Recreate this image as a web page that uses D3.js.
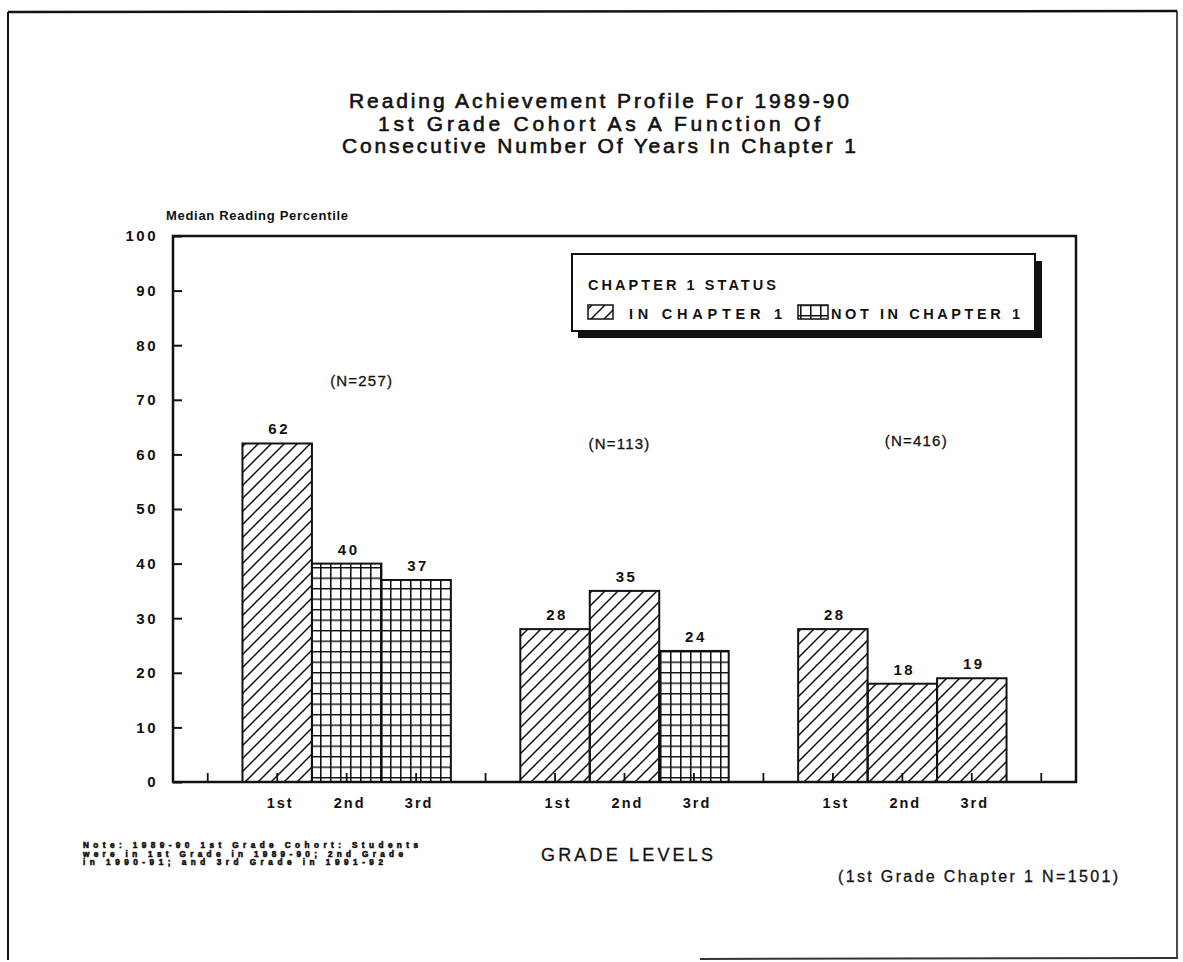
<!DOCTYPE html>
<html>
<head>
<meta charset="utf-8">
<script src="https://cdn.jsdelivr.net/npm/d3@7"></script>
<style>
  html, body { margin: 0; padding: 0; background: #fff; }
  svg { display: block; }
  text { font-family: "Liberation Sans", Arial, Helvetica, sans-serif; fill: #111; }
</style>
</head>
<body>
<svg id="chart" width="1183" height="962"></svg>
<script>
// ---- Data ----
const titleLines = [
  "Reading Achievement Profile For 1989-90",
  "1st Grade Cohort As A Function Of",
  "Consecutive Number Of Years In Chapter 1"
];
const gradeLabels = ["1st", "2nd", "3rd"];
const cohortLabels = ["(N=257)", "(N=113)", "(N=416)"];
// median reading percentile for 1st, 2nd, 3rd grade in each cohort group
const group1Values = [62, 40, 37];
const group2Values = [28, 35, 24];
const group3Values = [28, 18, 19];
// Chapter 1 status for each bar: true = in Chapter 1, false = not in Chapter 1
const group1Status = [true, false, false];
const group2Status = [true, true, false];
const group3Status = [true, true, true];
const yTicks = [0, 10, 20, 30, 40, 50, 60, 70, 80, 90, 100];
const legendTitle = "CHAPTER 1 STATUS";
const legendLabels = ["IN CHAPTER 1", "NOT IN CHAPTER 1"];
const noteLines = [
  "Note: 1989-90 1st Grade Cohort: Students",
  "were in 1st Grade in 1989-90; 2nd Grade",
  "in 1990-91; and 3rd Grade in 1991-92"
];

const groupValues = [group1Values, group2Values, group3Values];
const groupStatus = [group1Status, group2Status, group3Status];

// ---- Layout ----
const svg = d3.select("#chart");
const plot = { left: 173, right: 1076, top: 236, bottom: 782 };

// Slots along the x axis: an empty slot before each group and after the last one.
const slots = [];
const bars = [];
groupValues.forEach((vals, g) => {
  slots.push("gap" + g);
  vals.forEach((v, i) => {
    const key = "g" + g + "b" + i;
    slots.push(key);
    bars.push({ key, group: g, grade: gradeLabels[i], value: v, inCh1: groupStatus[g][i] });
  });
});
slots.push("gap" + groupValues.length);

const x = d3.scaleBand().domain(slots).range([plot.left, plot.right]).padding(0);
const y = d3.scaleLinear().domain([0, 100]).range([plot.bottom, plot.top]);
const cx = k => x(k) + x.bandwidth() / 2;

// ---- Patterns ----
const defs = svg.append("defs");
const hatch = defs.append("pattern")
  .attr("id", "hatch").attr("patternUnits", "userSpaceOnUse")
  .attr("width", 13).attr("height", 13);
hatch.append("path")
  .attr("d", "M-2,15 L15,-2 M-2,2 L2,-2 M11,15 L15,11")
  .attr("stroke", "#111").attr("stroke-width", 1.5);

const grid = defs.append("pattern")
  .attr("id", "grid").attr("patternUnits", "userSpaceOnUse")
  .attr("width", 10).attr("height", 10.5);
grid.append("path")
  .attr("d", "M0,0.7 L10,0.7 M0.7,0 L0.7,10.5")
  .attr("stroke", "#111").attr("stroke-width", 1.7);

// ---- Page frame ----
const frame = svg.append("g").attr("fill", "none").attr("stroke", "#111");
frame.append("path").attr("d", "M8,12 L1177,11").attr("stroke-width", 2.5);
frame.append("path").attr("d", "M8,12 L8,960").attr("stroke-width", 2);
frame.append("path").attr("d", "M1177,11 L1177,958").attr("stroke-width", 1.5);
frame.append("path").attr("d", "M700,959 L1178,958").attr("stroke-width", 2).attr("stroke", "#333");

// ---- Title ----
const titleWidths = [500, 442, 514];
svg.append("g").selectAll("text").data(titleLines).join("text")
  .attr("x", 599).attr("y", (d, i) => 108 + i * 22.5)
  .attr("text-anchor", "middle")
  .attr("font-size", 21)
  .attr("stroke", "#111").attr("stroke-width", 0.6)
  .attr("textLength", (d, i) => titleWidths[i]).attr("lengthAdjust", "spacing")
  .text(d => d);

// ---- Bars ----
svg.append("g").selectAll("rect").data(bars).join("rect")
  .attr("x", d => x(d.key))
  .attr("y", d => y(d.value))
  .attr("width", x.bandwidth())
  .attr("height", d => y(0) - y(d.value))
  .attr("fill", d => d.inCh1 ? "url(#hatch)" : "url(#grid)")
  .attr("stroke", "#111").attr("stroke-width", 2);

// value labels
svg.append("g").selectAll("text").data(bars).join("text")
  .attr("x", d => cx(d.key) + 2)
  .attr("y", d => y(d.value) - 9)
  .attr("text-anchor", "middle")
  .attr("font-size", 15).attr("font-weight", "bold")
  .attr("letter-spacing", 2.5)
  .text(d => d.value);

// ---- Plot frame and axes ----
svg.append("rect")
  .attr("x", plot.left).attr("y", plot.top)
  .attr("width", plot.right - plot.left).attr("height", plot.bottom - plot.top)
  .attr("fill", "none").attr("stroke", "#111").attr("stroke-width", 2.5);

const yAxis = d3.axisLeft(y).tickValues(yTicks).tickSize(-9).tickPadding(15).tickFormat(d3.format("d"));
const yg = svg.append("g").attr("transform", `translate(${plot.left},0)`).call(yAxis);
yg.select(".domain").remove();
yg.selectAll(".tick line").attr("stroke", "#111").attr("stroke-width", 2);
yg.selectAll(".tick text")
  .attr("font-family", "Liberation Sans, Arial, sans-serif")
  .attr("font-size", 15).attr("font-weight", "bold")
  .attr("letter-spacing", 2.5).attr("fill", "#111");

const xAxis = d3.axisBottom(x).tickSize(-9).tickFormat("");
const xg = svg.append("g").attr("transform", `translate(0,${plot.bottom})`).call(xAxis);
xg.select(".domain").remove();
xg.selectAll(".tick line").attr("stroke", "#111").attr("stroke-width", 1.8);

// grade labels under each bar
svg.append("g").selectAll("text").data(bars).join("text")
  .attr("x", d => cx(d.key) + 3)
  .attr("y", 808)
  .attr("text-anchor", "middle")
  .attr("font-size", 14.5).attr("font-weight", "bold")
  .attr("letter-spacing", 2)
  .text(d => d.grade);

// y axis title
svg.append("text")
  .attr("x", 166).attr("y", 220)
  .attr("font-size", 13).attr("font-weight", "bold")
  .attr("textLength", 182).attr("lengthAdjust", "spacing")
  .text("Median Reading Percentile");

// cohort sizes
const cohortPos = [{ dx: 15, v: 72.5 }, { dx: -5, v: 61 }, { dx: 14, v: 61.5 }];
svg.append("g").selectAll("text").data(cohortLabels).join("text")
  .attr("x", (d, g) => cx("g" + g + "b1") + cohortPos[g].dx)
  .attr("y", (d, g) => y(cohortPos[g].v))
  .attr("text-anchor", "middle")
  .attr("font-size", 15)
  .attr("stroke", "#111").attr("stroke-width", 0.3)
  .attr("letter-spacing", 1.2)
  .text(d => d);

// x axis title
svg.append("text")
  .attr("x", 627).attr("y", 861)
  .attr("text-anchor", "middle")
  .attr("font-size", 18)
  .attr("stroke", "#111").attr("stroke-width", 0.3)
  .attr("textLength", 172).attr("lengthAdjust", "spacing")
  .text("GRADE LEVELS");

// note
svg.append("g").selectAll("text").data(noteLines).join("text")
  .attr("x", 83).attr("y", (d, i) => 848 + i * 8.6)
  .attr("font-size", 8.2).attr("font-weight", "bold")
  .attr("stroke", "#111").attr("stroke-width", 0.6)
  .attr("textLength", (d, i) => [335, 320, 300][i]).attr("lengthAdjust", "spacing")
  .text(d => d);

// total
svg.append("text")
  .attr("x", 838).attr("y", 882)
  .attr("font-size", 16)
  .attr("stroke", "#111").attr("stroke-width", 0.3)
  .attr("textLength", 280).attr("lengthAdjust", "spacing")
  .text("(1st Grade Chapter 1 N=1501)");

// ---- Legend ----
const lg = svg.append("g");
lg.append("rect").attr("x", 578).attr("y", 261).attr("width", 464).attr("height", 77).attr("fill", "#111");
lg.append("rect").attr("x", 572).attr("y", 254).attr("width", 463).attr("height", 77)
  .attr("fill", "#fff").attr("stroke", "#111").attr("stroke-width", 2);
lg.append("text").attr("x", 588).attr("y", 290)
  .attr("font-size", 14.5).attr("font-weight", "bold")
  .attr("textLength", 188).attr("lengthAdjust", "spacing")
  .text(legendTitle);
const legendItems = [
  { label: legendLabels[0], fill: "url(#hatch)", sx: 588, sw: 25, tx: 629, w: 153 },
  { label: legendLabels[1], fill: "url(#grid)", sx: 798, sw: 30, tx: 831, w: 189 }
];
legendItems.forEach(it => {
  lg.append("rect").attr("x", it.sx).attr("y", 305).attr("width", it.sw).attr("height", 14)
    .attr("fill", it.fill).attr("stroke", "#111").attr("stroke-width", 1.5);
  lg.append("text").attr("x", it.tx).attr("y", 319)
    .attr("font-size", 14.5).attr("font-weight", "bold")
    .attr("textLength", it.w).attr("lengthAdjust", "spacing")
    .text(it.label);
});
</script>
</body>
</html>
